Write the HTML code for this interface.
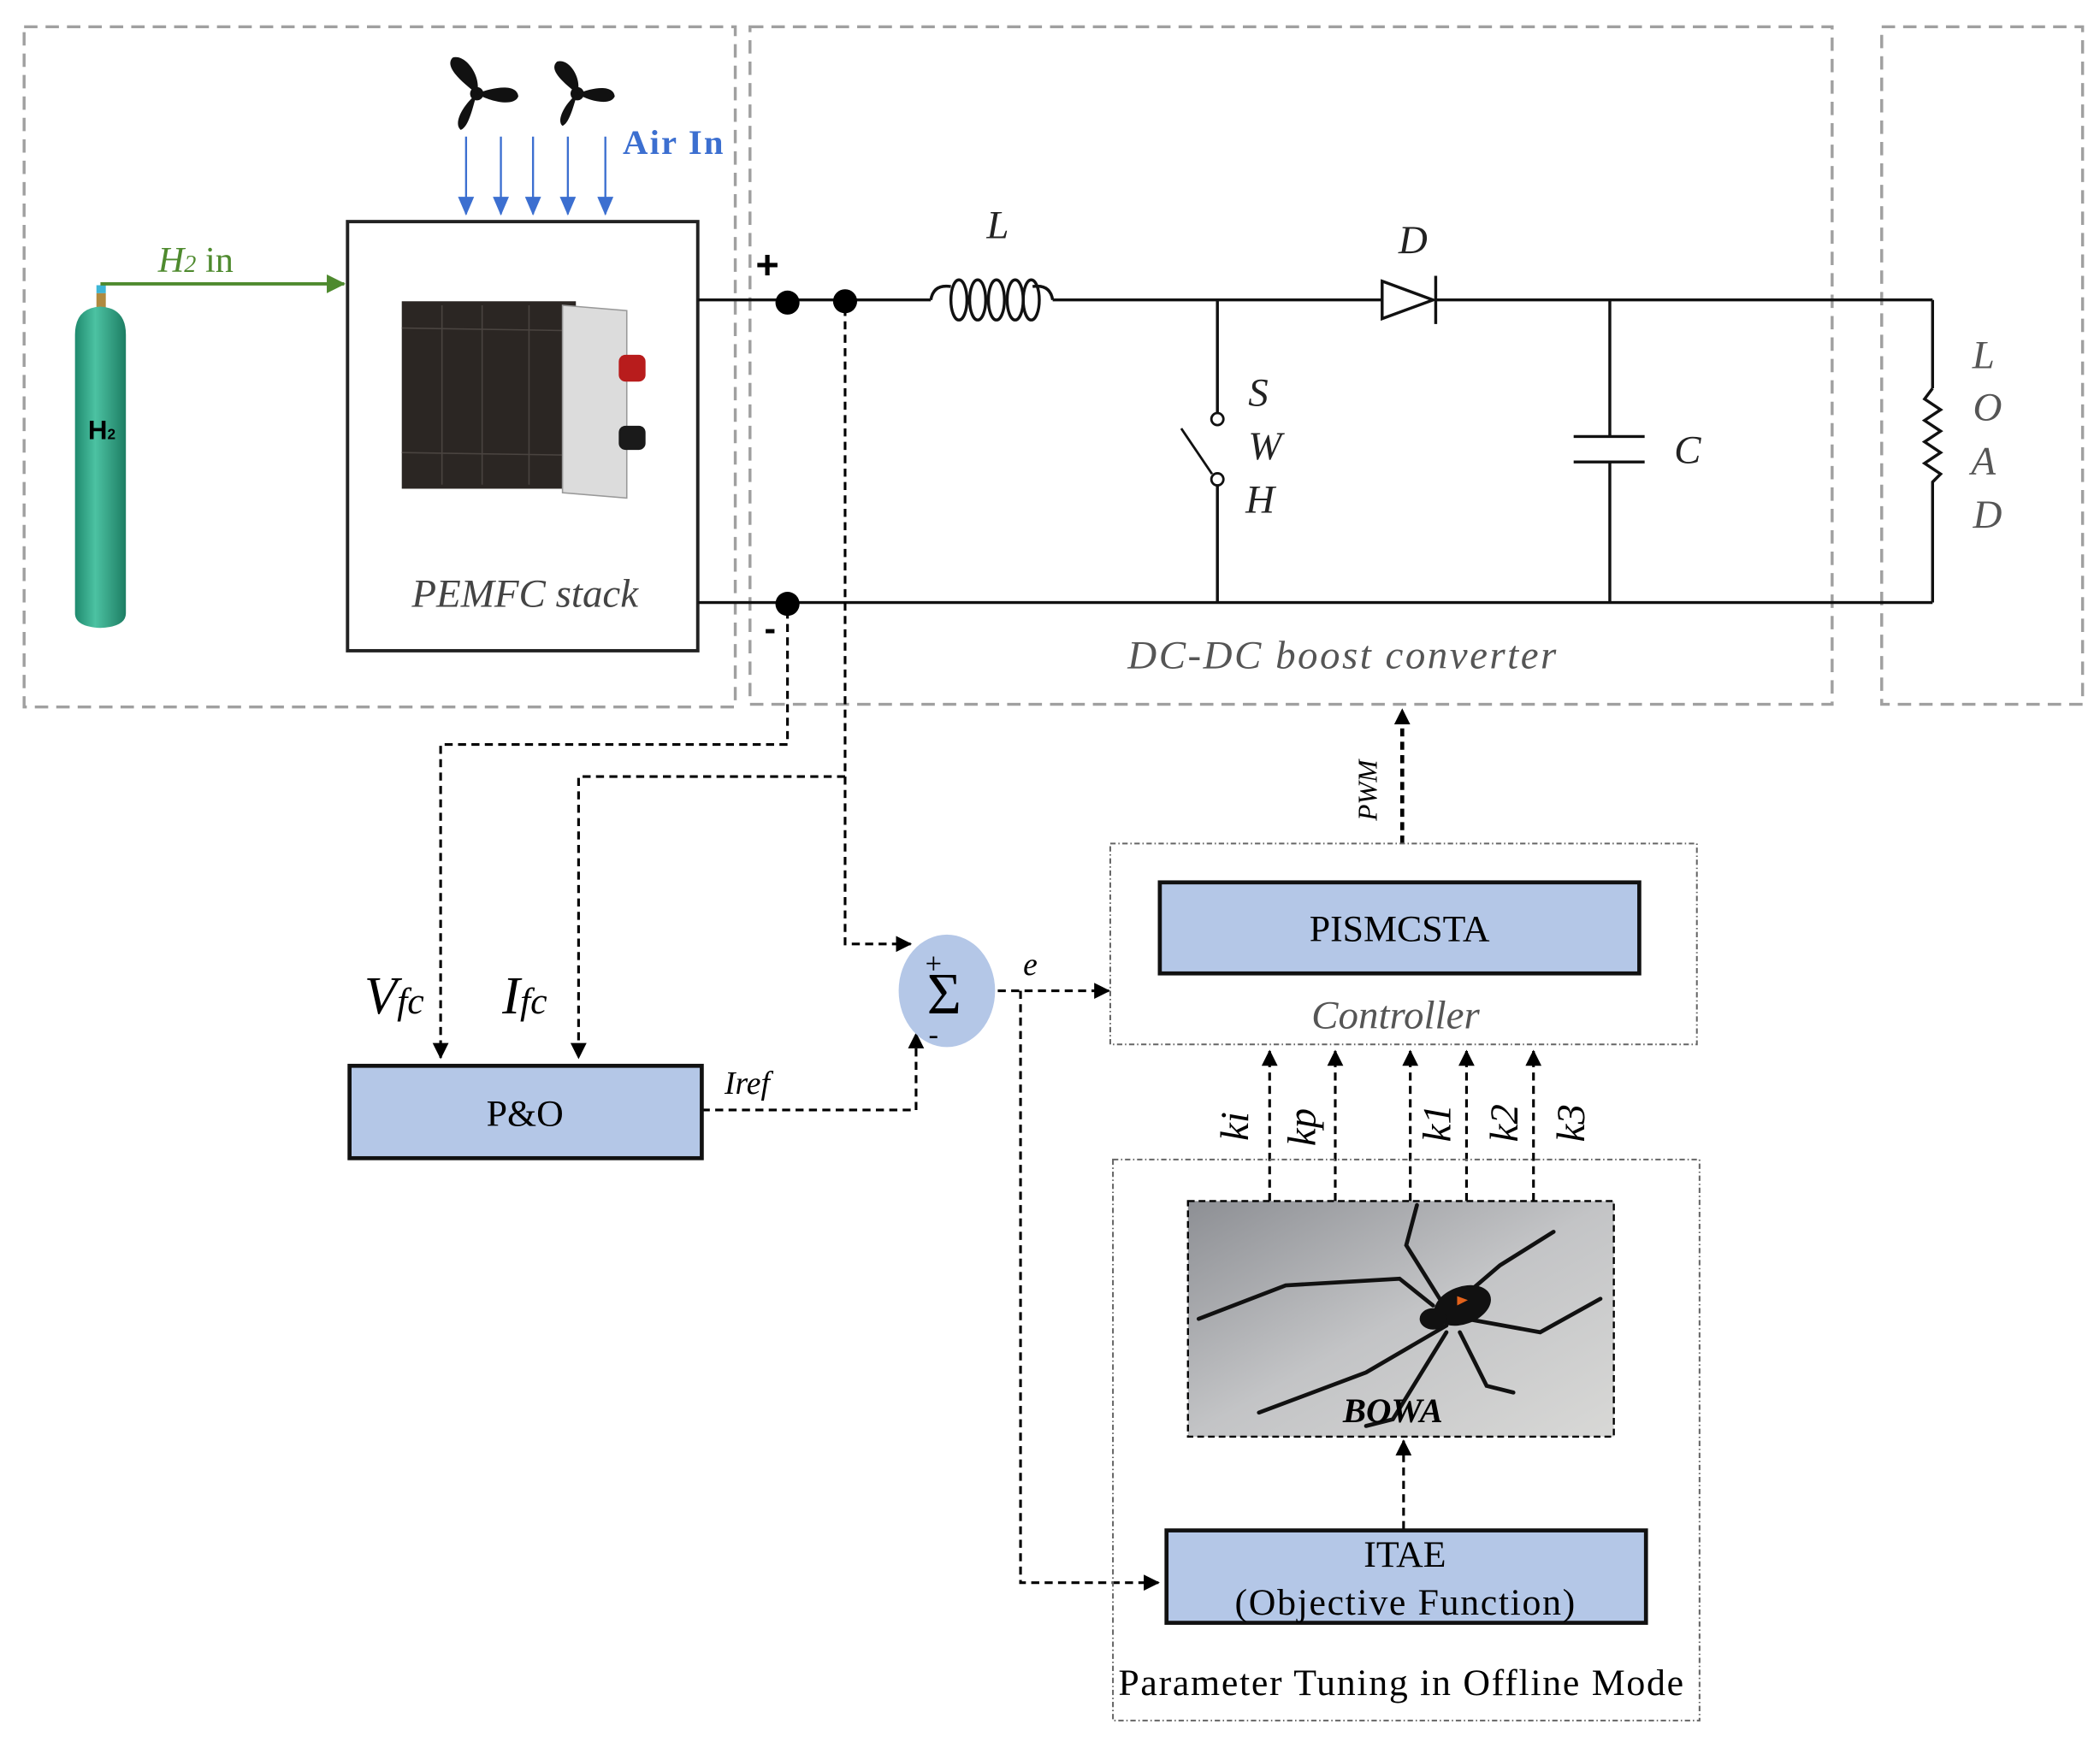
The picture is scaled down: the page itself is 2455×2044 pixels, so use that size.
<!DOCTYPE html>
<html><head><meta charset="utf-8"><style>
html,body{margin:0;padding:0;background:#fff}
svg{display:block}
</style></head><body>
<svg width="2455" height="2044" viewBox="0 0 1568 1305.5" xmlns="http://www.w3.org/2000/svg" font-family="Liberation Serif, serif">
<defs>
<marker id="ab" markerWidth="12" markerHeight="12" refX="11" refY="6" orient="auto" markerUnits="userSpaceOnUse"><path d="M0,0 L12,6 L0,12 z" fill="#000"/></marker>
<marker id="ag" markerWidth="14" markerHeight="14" refX="13" refY="7" orient="auto" markerUnits="userSpaceOnUse"><path d="M0,0 L14,7 L0,14 z" fill="#4e8a2e"/></marker>
<marker id="au" markerWidth="14" markerHeight="12" refX="13" refY="6" orient="auto" markerUnits="userSpaceOnUse"><path d="M0,0 L14,6 L0,12 z" fill="#3c6fd0"/></marker>
<linearGradient id="cyl" x1="0" x2="1"><stop offset="0" stop-color="#1f8a6e"/><stop offset=".4" stop-color="#4cc2a2"/><stop offset="1" stop-color="#1d7d63"/></linearGradient>
<linearGradient id="web" x1="0" y1="0" x2="1" y2="1"><stop offset="0" stop-color="#8d8f94"/><stop offset=".5" stop-color="#c3c4c6"/><stop offset="1" stop-color="#d8d8d6"/></linearGradient>
</defs>
<g fill="none" stroke="#a0a0a0" stroke-width="2.2" stroke-dasharray="10,6">
<rect x="18" y="20" width="531" height="508"/>
<rect x="560" y="20" width="808" height="506"/>
<rect x="1405" y="20" width="150" height="506"/>
</g>
<rect x="72" y="213" width="7" height="6" fill="#3fb6d6"/>
<rect x="72" y="219" width="7" height="12" fill="#b08a40"/>
<path d="M56,250 Q56,230 75,229 Q94,230 94,250 L94,458 Q94,468 75,469 Q56,468 56,458 Z" fill="url(#cyl)"/>
<text x="76" y="328" style="font-family:'Liberation Sans',sans-serif" font-weight="bold" font-size="20" text-anchor="middle">H<tspan font-size="11">2</tspan></text>
<line x1="75" y1="212" x2="257" y2="212" stroke="#4e8a2e" stroke-width="2.5" marker-end="url(#ag)"/>
<text x="118" y="203" font-size="27" fill="#4e8a2e"><tspan font-style="italic">H<tspan font-size="18">2</tspan></tspan> in</text>
<rect x="259.5" y="165.5" width="261.5" height="320.5" fill="#fff" stroke="#222" stroke-width="2.5"/>
<rect x="300" y="225" width="130" height="140" fill="#2b2623"/>
<g stroke="#4a4440" stroke-width="1">
<line x1="300" y1="245" x2="430" y2="247"/><line x1="300" y1="338" x2="430" y2="340"/>
<line x1="330" y1="228" x2="330" y2="362"/><line x1="360" y1="228" x2="360" y2="362"/><line x1="395" y1="228" x2="395" y2="362"/>
</g>
<path d="M420,228 L468,232 L468,372 L420,368 Z" fill="#dcdcdc" stroke="#999"/>
<rect x="462" y="265" width="20" height="20" rx="5" fill="#b81c1c"/>
<rect x="462" y="318" width="20" height="18" rx="5" fill="#1a1a1a"/>
<text x="392" y="453" font-size="30" font-style="italic" fill="#444" text-anchor="middle">PEMFC stack</text>
<g fill="#111">
<g transform="translate(356,70)"><circle r="5"/><path d="M0,0 C-10,-8 -25,-20 -18,-27 C-8,-30 4,-12 0,0Z"/><path d="M0,0 C12,-5 30,-8 31,2 C28,10 10,6 0,0Z"/><path d="M0,0 C-3,10 -6,25 -12,27 C-18,22 -10,8 0,0Z"/></g>
<g transform="translate(431,70)"><circle r="5"/><path d="M0,0 C-10,-8 -22,-18 -15,-24 C-6,-27 4,-11 0,0Z"/><path d="M0,0 C12,-5 27,-7 28,2 C25,9 10,6 0,0Z"/><path d="M0,0 C-3,10 -6,22 -11,24 C-16,20 -9,7 0,0Z"/></g>
</g>
<g stroke="#3c6fd0" stroke-width="1.5">
<line x1="348" y1="102" x2="348" y2="160" marker-end="url(#au)"/>
<line x1="374" y1="102" x2="374" y2="160" marker-end="url(#au)"/>
<line x1="398" y1="102" x2="398" y2="160" marker-end="url(#au)"/>
<line x1="424" y1="102" x2="424" y2="160" marker-end="url(#au)"/>
<line x1="452" y1="102" x2="452" y2="160" marker-end="url(#au)"/>
</g>
<text x="465" y="115" font-size="26" font-weight="bold" fill="#3c6fd0" textLength="75">Air In</text>
<g stroke="#111" stroke-width="2.2" fill="none">
<line x1="521" y1="224" x2="695" y2="224"/>
<path d="M695,224 q2,-12 15,-10 M786,224 q-2,-12 -15,-10"/>
<ellipse cx="716" cy="224" rx="6" ry="15"/><ellipse cx="730" cy="224" rx="6" ry="15"/><ellipse cx="744" cy="224" rx="6" ry="15"/><ellipse cx="758" cy="224" rx="6" ry="15"/><ellipse cx="770" cy="224" rx="6" ry="15"/>
<line x1="786" y1="224" x2="1032" y2="224"/>
<path d="M1032,210 L1070,224 L1032,238 Z" fill="#fff"/>
<line x1="1072" y1="206" x2="1072" y2="242"/>
<line x1="1072" y1="224" x2="1443" y2="224"/>
<line x1="521" y1="450" x2="1443" y2="450"/>
<line x1="909" y1="224" x2="909" y2="308"/>
<circle cx="909" cy="313" r="4.5" stroke-width="1.8"/>
<circle cx="909" cy="358" r="4.5" stroke-width="1.8"/>
<line x1="882" y1="320" x2="905" y2="354" stroke-width="1.8"/>
<line x1="909" y1="363" x2="909" y2="450"/>
<line x1="1202" y1="224" x2="1202" y2="326"/>
<line x1="1175" y1="326" x2="1228" y2="326"/><line x1="1175" y1="345" x2="1228" y2="345"/>
<line x1="1202" y1="345" x2="1202" y2="450"/>
<line x1="1443" y1="224" x2="1443" y2="290"/>
<path d="M1443,290 l-6,8 l12,8 l-12,8 l12,8 l-12,8 l12,8 l-12,8 l12,8 l-6,6 L1443,450"/>
</g>
<circle cx="588" cy="226" r="9" fill="#000"/><circle cx="631" cy="225" r="9" fill="#000"/><circle cx="588" cy="451" r="9" fill="#000"/>
<text x="573" y="208" style="font-family:'Liberation Sans',sans-serif" font-size="30" font-weight="bold" text-anchor="middle">+</text>
<text x="575" y="478" style="font-family:'Liberation Sans',sans-serif" font-size="26" font-weight="bold" text-anchor="middle">-</text>
<g font-size="30" font-style="italic" fill="#222">
<text x="745" y="178" text-anchor="middle">L</text>
<text x="1055" y="189" text-anchor="middle">D</text>
<text x="932" y="303">S</text><text x="932" y="343">W</text><text x="930" y="383">H</text>
<text x="1250" y="346">C</text>
<g fill="#555" text-anchor="middle"><text x="1481" y="275">L</text><text x="1484" y="314">O</text><text x="1481" y="354">A</text><text x="1484" y="394">D</text></g>
<text x="1002" y="499" text-anchor="middle" fill="#555" textLength="320">DC-DC boost converter</text>
</g>
<g stroke="#000" stroke-width="2" stroke-dasharray="6,4" fill="none">
<polyline points="588,456 588,556 329,556 329,790" marker-end="url(#ab)"/>
<polyline points="631,230 631,580 432,580 432,790" marker-end="url(#ab)"/>
<polyline points="631,580 631,705 680,705" marker-end="url(#ab)"/>
<polyline points="524,829 684,829 684,772" marker-end="url(#ab)"/>
<polyline points="745,740 828,740" marker-end="url(#ab)"/>
<polyline points="762,740 762,1182 865,1182" marker-end="url(#ab)"/>
<polyline points="1047,630 1047,530" marker-end="url(#ab)" stroke-width="3"/>
<polyline points="948,897 948,785" marker-end="url(#ab)"/>
<polyline points="997,897 997,785" marker-end="url(#ab)"/>
<polyline points="1053,897 1053,785" marker-end="url(#ab)"/>
<polyline points="1095,897 1095,785" marker-end="url(#ab)"/>
<polyline points="1145,897 1145,785" marker-end="url(#ab)"/>
<polyline points="1048,1142 1048,1076" marker-end="url(#ab)"/>
</g>
<g font-style="italic">
<text x="272" y="757" font-size="40">V<tspan font-size="28">fc</tspan></text>
<text x="375" y="757" font-size="40">I<tspan font-size="28">fc</tspan></text>
<text x="541" y="817" font-size="24">Iref</text>
<text x="764" y="728" font-size="24">e</text>
</g>
<rect x="261" y="796" width="263" height="69" fill="#b4c7e7" stroke="#111" stroke-width="3"/>
<text x="392" y="841" font-size="28" text-anchor="middle">P&amp;O</text>
<ellipse cx="707" cy="740" rx="36" ry="42" fill="#b4c7e7"/>
<text x="705" y="757" font-size="44" text-anchor="middle">Σ</text>
<text x="697" y="727" font-size="22" text-anchor="middle">+</text>
<text x="697" y="780" font-size="22" text-anchor="middle">-</text>
<rect x="829" y="630" width="438" height="150" fill="none" stroke="#666" stroke-width="1.3" stroke-dasharray="4,2,1,2"/>
<rect x="866" y="659" width="358" height="68" fill="#b4c7e7" stroke="#111" stroke-width="3"/>
<text x="1045" y="703" font-size="28" text-anchor="middle">PISMCSTA</text>
<text x="1042" y="768" font-size="30" font-style="italic" fill="#555" text-anchor="middle">Controller</text>
<text transform="translate(1028,613) rotate(-90)" font-size="20" font-style="italic">PWM</text>
<g font-size="30" font-style="italic">
<text transform="translate(932,852) rotate(-90)">ki</text>
<text transform="translate(982,856) rotate(-90)">kp</text>
<text transform="translate(1083,853) rotate(-90)">k1</text>
<text transform="translate(1133,853) rotate(-90)">k2</text>
<text transform="translate(1183,853) rotate(-90)">k3</text>
</g>
<rect x="831" y="866" width="438" height="419" fill="none" stroke="#666" stroke-width="1.3" stroke-dasharray="4,2,1,2"/>
<rect x="887" y="897" width="318" height="176" fill="url(#web)"/>
<rect x="887" y="897" width="318" height="176" fill="none" stroke="#000" stroke-width="1.5" stroke-dasharray="5,3"/>
<g stroke="#111" stroke-width="3" fill="none" stroke-linecap="round">
<path d="M1070,975 L1045,955 L960,960 L895,985"/>
<path d="M1075,970 L1050,930 L1058,900"/>
<path d="M1085,975 L1120,945 L1160,920"/>
<path d="M1095,985 L1150,995 L1195,970"/>
<path d="M1080,990 L1020,1025 L940,1055"/>
<path d="M1080,995 L1040,1060 L1020,1065"/>
<path d="M1090,995 L1110,1035 L1130,1040"/>
</g>
<ellipse cx="1092" cy="975" rx="22" ry="14" fill="#111" transform="rotate(-20 1092 975)"/>
<ellipse cx="1070" cy="985" rx="10" ry="8" fill="#111"/>
<path d="M1088,968 l8,3 l-8,4z" fill="#e2621b"/>
<text x="1040" y="1062" font-size="26" font-weight="bold" font-style="italic" text-anchor="middle">BOWA</text>
<rect x="871" y="1143" width="358" height="69" fill="#b4c7e7" stroke="#111" stroke-width="3"/>
<text x="1049" y="1170" font-size="28" text-anchor="middle">ITAE</text>
<text x="1049" y="1206" font-size="28" text-anchor="middle" textLength="254">(Objective Function)</text>
<text x="835" y="1266" font-size="28" textLength="422">Parameter Tuning in Offline Mode</text>
</svg>
</body></html>
